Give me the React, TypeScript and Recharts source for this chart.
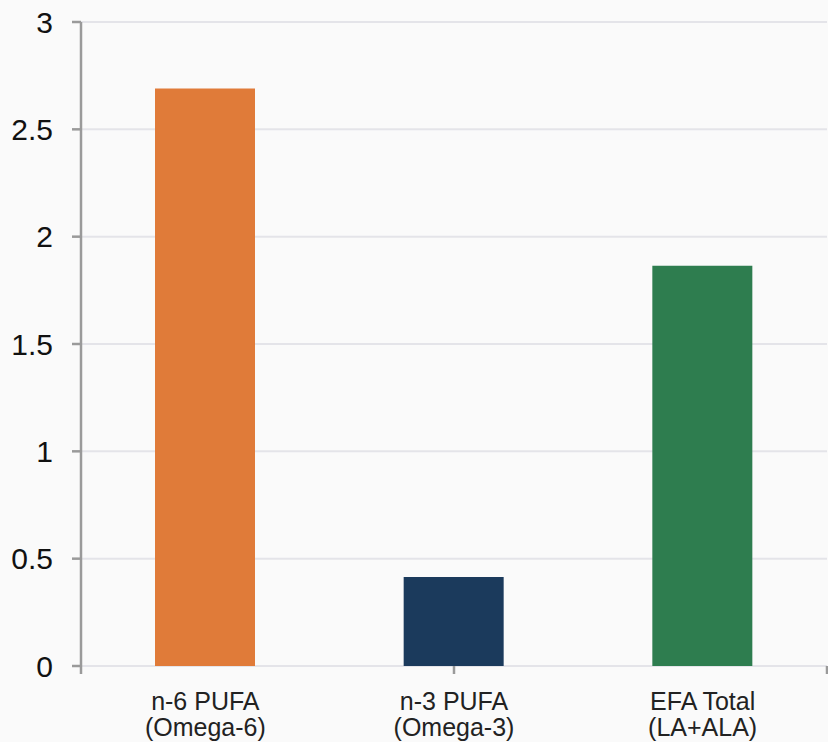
import React from 'react';
import { BarChart, Bar, XAxis, YAxis, CartesianGrid, Cell } from 'recharts';

const categories = ['n-6 PUFA|(Omega-6)', 'n-3 PUFA|(Omega-3)', 'EFA Total|(LA+ALA)'];
const values = [2.69, 0.415, 1.865];
const barColors = ['#E07B39', '#1B3A5C', '#2E7D4F'];
const yTicks = [0, 0.5, 1, 1.5, 2, 2.5, 3];
const edgeTicks = [0, 1, 2, 3];

const data = categories.map((name, i) => ({ name, value: values[i] }));

const FONT = '"Liberation Sans", Arial, Helvetica, sans-serif';
const AXIS = '#9a9a9a';

const CategoryTick = ({ x, y, payload }: any) => {
  const lines = String(payload.value).split('|');
  return (
    <text x={x} y={y} textAnchor="middle" fill="#222222" fontSize={25} fontFamily={FONT}>
      {lines.map((line, i) => (
        <tspan key={i} x={x} dy={i === 0 ? '0.71em' : '1.05em'}>
          {line}
        </tspan>
      ))}
    </text>
  );
};

const EmptyTick = () => <g />;

export default function App() {
  return (
    <div style={{ position: 'absolute', left: 0, top: 0, width: 828, height: 742, background: '#fafafa' }}>
      <BarChart
        width={828}
        height={742}
        data={data}
        margin={{ top: 22, right: 1, left: 0, bottom: 5 }}
      >
        <CartesianGrid xAxisId="b" vertical={false} stroke="#e4e4e9" strokeWidth={2} />
        <XAxis
          xAxisId="a"
          type="number"
          domain={[0, 3]}
          ticks={edgeTicks}
          tick={<EmptyTick />}
          tickSize={8}
          stroke={AXIS}
          axisLine={false}
          tickLine={{ stroke: AXIS, strokeWidth: 2.5 }}
          height={1}
          interval={0}
        />
        <XAxis
          xAxisId="b"
          dataKey="name"
          axisLine={false}
          tickLine={false}
          tick={<CategoryTick />}
          tickMargin={19}
          height={70}
          interval={0}
        />
        <YAxis
          domain={[0, 3]}
          ticks={yTicks}
          width={81}
          stroke={AXIS}
          axisLine={{ stroke: AXIS, strokeWidth: 2.5 }}
          tickLine={{ stroke: AXIS, strokeWidth: 2.5 }}
          tickSize={9}
          tickMargin={19}
          tick={{ fill: '#111111', fontSize: 30, fontFamily: FONT }}
        />
        <Bar dataKey="value" xAxisId="b" barSize={100} isAnimationActive={false}>
          {data.map((d, i) => (
            <Cell key={d.name} fill={barColors[i]} />
          ))}
        </Bar>
      </BarChart>
    </div>
  );
}
